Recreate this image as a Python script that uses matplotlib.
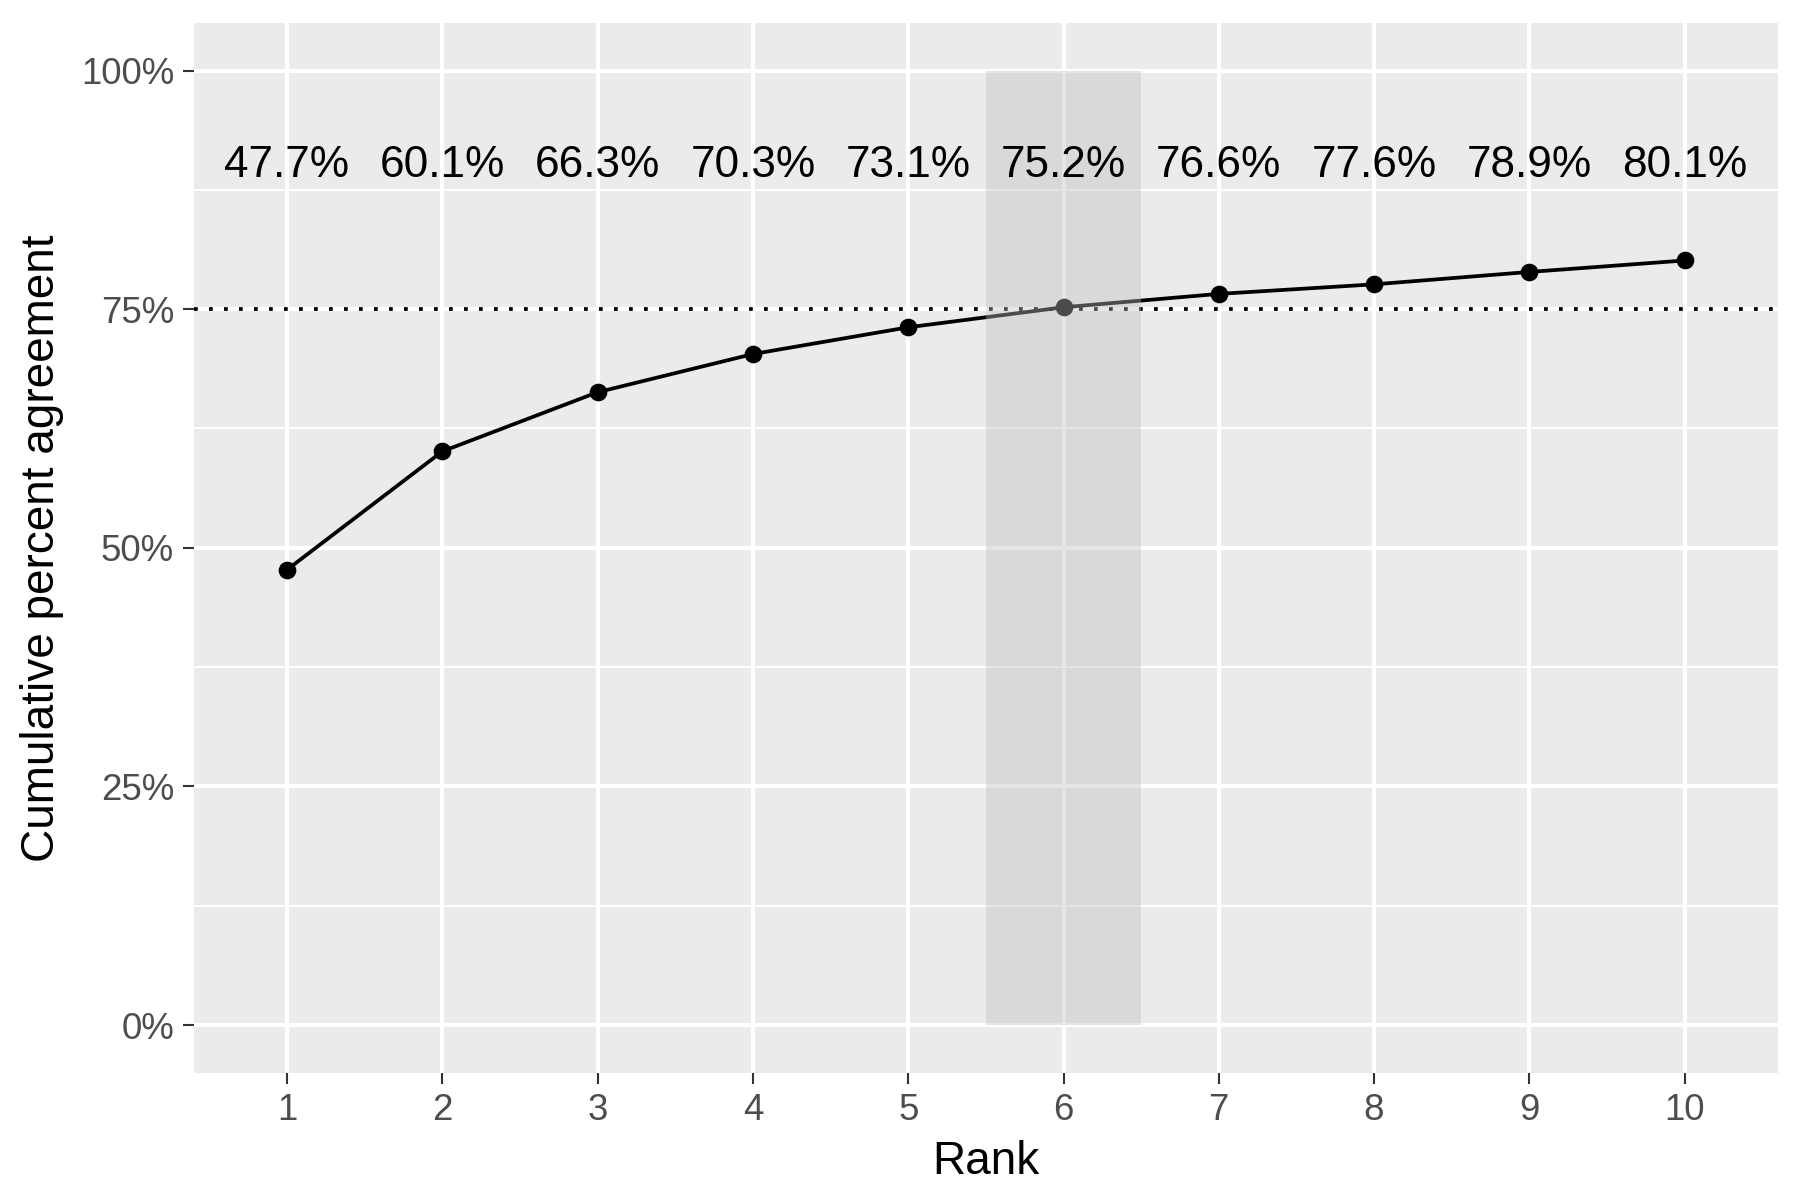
import matplotlib.pyplot as plt
from matplotlib.ticker import FuncFormatter

ranks = [1, 2, 3, 4, 5, 6, 7, 8, 9, 10]
agreement = [0.477, 0.601, 0.663, 0.703, 0.731, 0.752, 0.766, 0.776, 0.789, 0.801]
threshold = 0.75
highlight_rank = 6

plt.rcParams['font.family'] = ['Liberation Sans', 'DejaVu Sans']

fig = plt.figure(figsize=(6, 4), dpi=300)
ax = fig.add_axes([0.1077, 0.106, 0.880, 0.875])
ax.set_facecolor('#EBEBEB')

# ggplot-like grid
for y in [0.125, 0.375, 0.625, 0.875]:
    ax.axhline(y, color='white', lw=0.5, zorder=0)
for y in [0, 0.25, 0.5, 0.75, 1.0]:
    ax.axhline(y, color='white', lw=1.0, zorder=0)
for x in ranks:
    ax.axvline(x, color='white', lw=1.0, zorder=0)

ax.axhline(threshold, color='black', lw=0.9, ls=(0, (1, 3)), zorder=1)
ax.plot(ranks, agreement, color='black', lw=0.9, zorder=2)
ax.scatter(ranks, agreement, color='black', s=18, zorder=3, linewidths=0)

ax.fill_between([highlight_rank - 0.5, highlight_rank + 0.5], 0, 1,
                color='#BEBEBE', alpha=0.4, lw=0, zorder=4)

for r, v in zip(ranks, agreement):
    ax.text(r, 0.9, f"{v * 100:.1f}%", ha='center', va='center',
            fontsize=10.6, color='black', zorder=5)

ax.set_xlim(0.4, 10.6)
ax.set_ylim(-0.05, 1.05)
ax.set_xticks(ranks)
ax.set_yticks([0, 0.25, 0.5, 0.75, 1.0])
ax.yaxis.set_major_formatter(FuncFormatter(lambda v, p: f"{v * 100:.0f}%"))
ax.tick_params(axis='both', colors='#333333', labelcolor='#4D4D4D',
               labelsize=8.8, length=2.75, width=0.5, pad=2)
for s in ax.spines.values():
    s.set_visible(False)

ax.set_xlabel('Rank', fontsize=11, labelpad=3)
ax.set_ylabel('Cumulative percent agreement', fontsize=11, labelpad=4)

fig.savefig('out.png', dpi=300, facecolor='white')
